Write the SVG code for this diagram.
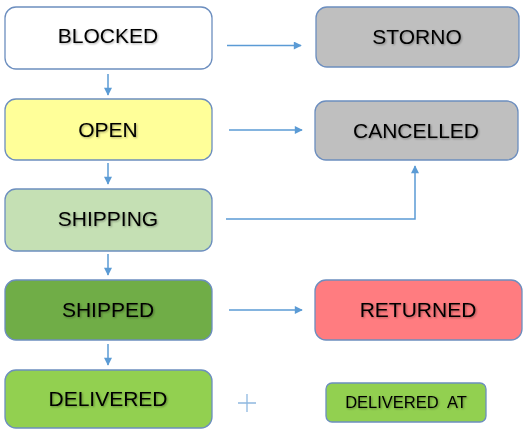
<svg xmlns="http://www.w3.org/2000/svg" width="524" height="430" viewBox="0 0 524 430">
<defs>
<marker id="ah" viewBox="0 0 10 10" refX="9" refY="5" markerWidth="9" markerHeight="8" orient="auto" markerUnits="userSpaceOnUse">
<path d="M0,0 L10,5 L0,10 z" fill="#5b9bd5"/>
</marker>
<filter id="sh" x="-10%" y="-20%" width="120%" height="140%">
<feGaussianBlur in="SourceAlpha" stdDeviation="0.8"/>
<feOffset dx="1" dy="1"/>
<feComponentTransfer><feFuncA type="linear" slope="0.35"/></feComponentTransfer>
<feMerge><feMergeNode/><feMergeNode in="SourceGraphic"/></feMerge>
</filter>
</defs>
<style>
.box{stroke:#6c8ebf;stroke-width:1.3}
.t{font-family:"Liberation Sans",Arial,sans-serif;font-size:21px;fill:#000;text-anchor:middle;filter:url(#sh)}
.s{font-size:16.5px}
.c{stroke:#5b9bd5;stroke-width:1.5;fill:none}
</style>
<rect width="524" height="430" fill="#fff"/>
<g id="blocked"><rect class="box" x="5" y="7" width="207" height="62" rx="11" fill="#ffffff"/><text class="t" x="108" y="43">BLOCKED</text></g>
<g id="open"><rect class="box" x="5" y="99" width="207" height="61" rx="11" fill="#ffff99"/><text class="t" x="108" y="137">OPEN</text></g>
<g id="shipping"><rect class="box" x="5" y="189" width="207" height="62" rx="11" fill="#c5e0b4"/><text class="t" x="108" y="226">SHIPPING</text></g>
<g id="shipped"><rect class="box" x="5" y="280" width="207" height="60" rx="11" fill="#70ad47"/><text class="t" x="108" y="317">SHIPPED</text></g>
<g id="delivered"><rect class="box" x="5" y="370" width="207" height="58" rx="11" fill="#92d050"/><text class="t" x="108" y="406">DELIVERED</text></g>
<g id="storno"><rect class="box" x="316" y="7" width="203" height="60" rx="11" fill="#bfbfbf"/><text class="t" x="417" y="44">STORNO</text></g>
<g id="cancelled"><rect class="box" x="315" y="101" width="203" height="59" rx="11" fill="#bfbfbf"/><text class="t" x="416" y="138">CANCELLED</text></g>
<g id="returned"><rect class="box" x="315" y="280" width="207" height="60" rx="11" fill="#ff7c80"/><text class="t" x="418" y="317">RETURNED</text></g>
<g id="delivered-at"><rect class="box" x="326" y="383" width="160" height="39" rx="6" fill="#92d050"/><text class="t s" x="406" y="408" xml:space="preserve">DELIVERED  AT</text></g>
<g id="plus"><path d="M238,403 H256 M247,394 V412" stroke="#8fb8e0" stroke-width="1.3" fill="none"/></g>
<g id="connectors">
<line class="c" x1="108" y1="74" x2="108" y2="95" marker-end="url(#ah)"/>
<line class="c" x1="108" y1="163" x2="108" y2="184" marker-end="url(#ah)"/>
<line class="c" x1="108" y1="254" x2="108" y2="275" marker-end="url(#ah)"/>
<line class="c" x1="108" y1="344" x2="108" y2="365" marker-end="url(#ah)"/>
<line class="c" x1="227" y1="45.5" x2="301" y2="45.5" marker-end="url(#ah)"/>
<line class="c" x1="229" y1="130" x2="302" y2="130" marker-end="url(#ah)"/>
<path class="c" d="M226,219 H415 V166" marker-end="url(#ah)"/>
<line class="c" x1="229" y1="310" x2="302" y2="310" marker-end="url(#ah)"/>
</g>
</svg>
